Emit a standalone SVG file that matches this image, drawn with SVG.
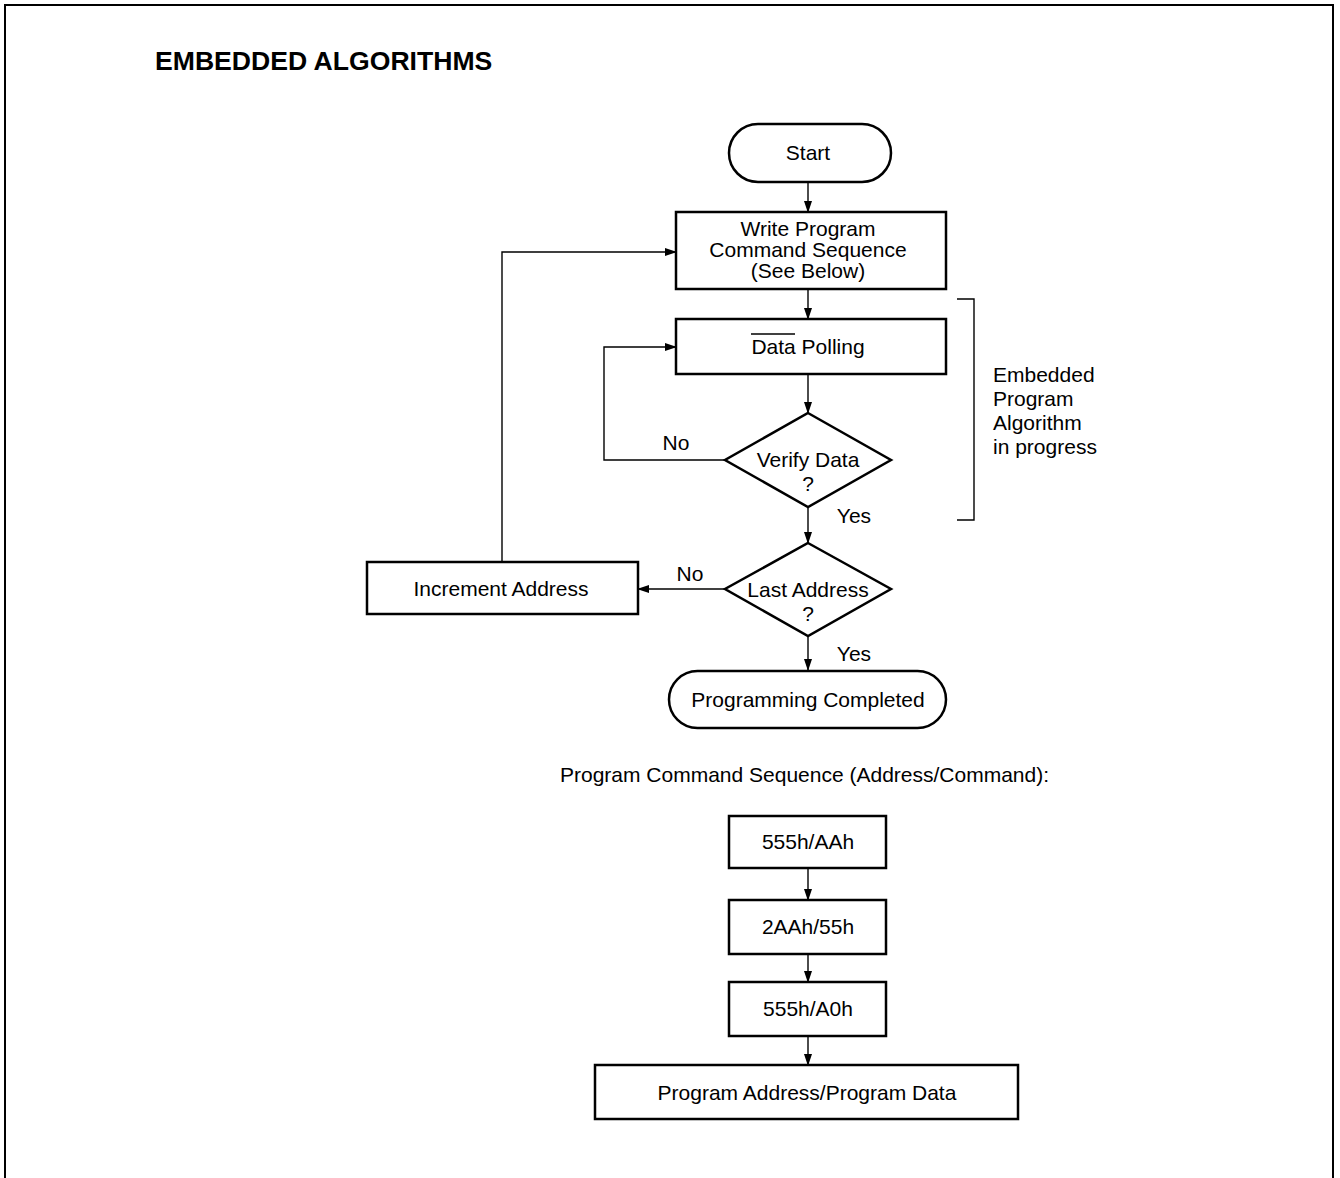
<svg xmlns="http://www.w3.org/2000/svg" width="1340" height="1178" viewBox="0 0 1340 1178">
<style>
  text { font-family: "Liberation Sans", Arial, sans-serif; font-size: 21px; fill: #000; }
  .c { text-anchor: middle; }
  .title { font-weight: bold; font-size: 26.6px; }
  .node { fill: #fff; stroke: #000; stroke-width: 2.5; }
  .conn { fill: none; stroke: #000; stroke-width: 1.4; }
  .frame { fill: none; stroke: #000; stroke-width: 2; }
</style>
<defs>
  <marker id="arr" markerWidth="12" markerHeight="8" refX="11" refY="4" orient="auto" markerUnits="userSpaceOnUse">
    <path d="M0,0 L12,4 L0,8 Z" fill="#000"/>
  </marker>
</defs>
<rect width="1340" height="1178" fill="#fff"/>
<path class="frame" d="M5,1178 V5 H1333 V1178"/>
<text class="title" x="155" y="70">EMBEDDED ALGORITHMS</text>

<g id="connectors">
  <line class="conn" x1="808" y1="182" x2="808" y2="212" marker-end="url(#arr)"/>
  <line class="conn" x1="808" y1="289" x2="808" y2="319" marker-end="url(#arr)"/>
  <line class="conn" x1="808" y1="374" x2="808" y2="413" marker-end="url(#arr)"/>
  <polyline class="conn" points="725,460 604,460 604,347 676,347" marker-end="url(#arr)"/>
  <line class="conn" x1="808" y1="507" x2="808" y2="543" marker-end="url(#arr)"/>
  <line class="conn" x1="725" y1="589" x2="638" y2="589" marker-end="url(#arr)"/>
  <polyline class="conn" points="502,561 502,252 676,252" marker-end="url(#arr)"/>
  <line class="conn" x1="808" y1="636" x2="808" y2="670" marker-end="url(#arr)"/>
  <polyline class="conn" points="957,299 974,299 974,520 957,520"/>
  <line class="conn" x1="808" y1="868" x2="808" y2="900" marker-end="url(#arr)"/>
  <line class="conn" x1="808" y1="954" x2="808" y2="982" marker-end="url(#arr)"/>
  <line class="conn" x1="808" y1="1036" x2="808" y2="1065" marker-end="url(#arr)"/>
  <text class="c" x="676" y="450">No</text>
  <text class="c" x="854" y="523">Yes</text>
  <text class="c" x="690" y="581">No</text>
  <text class="c" x="854" y="661">Yes</text>
</g>

<g id="start">
  <rect class="node" x="729" y="124" width="162" height="58" rx="29"/>
  <text class="c" x="808" y="160">Start</text>
</g>
<g id="write">
  <rect class="node" x="676" y="212" width="270" height="77"/>
  <text class="c" x="808" y="236">Write Program</text>
  <text class="c" x="808" y="257">Command Sequence</text>
  <text class="c" x="808" y="278">(See Below)</text>
</g>
<g id="polling">
  <rect class="node" x="676" y="319" width="270" height="55"/>
  <text class="c" x="808" y="354">Data Polling</text>
  <line x1="751" y1="334" x2="795" y2="334" stroke="#000" stroke-width="1.3"/>
</g>
<g id="verify">
  <polygon class="node" points="808,413 891,460 808,507 725,460"/>
  <text class="c" x="808" y="467">Verify Data</text>
  <text class="c" x="808" y="491">?</text>
</g>
<g id="last">
  <polygon class="node" points="808,543 891,589 808,636 725,589"/>
  <text class="c" x="808" y="597">Last Address</text>
  <text class="c" x="808" y="621">?</text>
</g>
<g id="increment">
  <rect class="node" x="367" y="562" width="271" height="52"/>
  <text class="c" x="501" y="596">Increment Address</text>
</g>
<g id="completed">
  <rect class="node" x="669" y="671" width="277" height="57" rx="28.5"/>
  <text class="c" x="808" y="707">Programming Completed</text>
</g>
<g id="bracket-label">
  <text x="993" y="382">Embedded</text>
  <text x="993" y="406">Program</text>
  <text x="993" y="430">Algorithm</text>
  <text x="993" y="454">in progress</text>
</g>

<text x="560" y="782">Program Command Sequence (Address/Command):</text>
<g id="seq1">
  <rect class="node" x="729" y="816" width="157" height="52"/>
  <text class="c" x="808" y="849">555h/AAh</text>
</g>
<g id="seq2">
  <rect class="node" x="729" y="900" width="157" height="54"/>
  <text class="c" x="808" y="934">2AAh/55h</text>
</g>
<g id="seq3">
  <rect class="node" x="729" y="982" width="157" height="54"/>
  <text class="c" x="808" y="1016">555h/A0h</text>
</g>
<g id="seq4">
  <rect class="node" x="595" y="1065" width="423" height="54"/>
  <text class="c" x="807" y="1100">Program Address/Program Data</text>
</g>
</svg>
